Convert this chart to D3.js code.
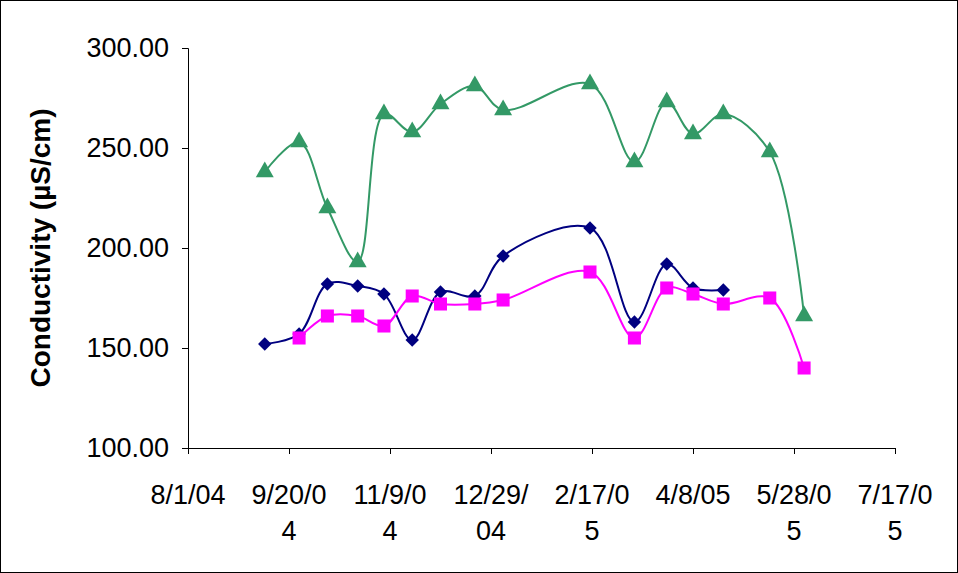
<!DOCTYPE html>
<html><head><meta charset="utf-8">
<script src="https://cdn.jsdelivr.net/npm/d3@7"></script>
<style>body{margin:0;background:#fff}svg{font-family:Arial,"Liberation Sans",sans-serif}</style>
</head><body><svg id="c" width="958" height="573"></svg>
<script>
const blueDates=["2004-09-08","2004-09-25","2004-10-09","2004-10-24","2004-11-06","2004-11-20","2004-12-04","2004-12-21","2005-01-04","2005-02-16","2005-03-10","2005-03-26","2005-04-08","2005-04-23"];
const blueVals=[152,157,182,181,177,154,178,176,196,210,163,192,180,179];
const pinkDates=["2004-09-25","2004-10-09","2004-10-24","2004-11-06","2004-11-20","2004-12-04","2004-12-21","2005-01-04","2005-02-16","2005-03-10","2005-03-26","2005-04-08","2005-04-23","2005-05-16","2005-06-02"];
const pinkVals=[155,166,166,161,176,172,172,174,188,155,180,177,172,175,140];
const greenDates=["2004-09-08","2004-09-25","2004-10-09","2004-10-24","2004-11-06","2004-11-20","2004-12-04","2004-12-21","2005-01-04","2005-02-16","2005-03-10","2005-03-26","2005-04-08","2005-04-23","2005-05-16","2005-06-02"];
const greenVals=[238,253,220,193,267,258,272,281,269,282,243,273,257,267,248,166];
const xTickDates=["2004-08-01","2004-09-20","2004-11-09","2004-12-29","2005-02-17","2005-04-08","2005-05-28","2005-07-17"];
const xTickLabels=[["8/1/04"],["9/20/0","4"],["11/9/0","4"],["12/29/","04"],["2/17/0","5"],["4/8/05"],["5/28/0","5"],["7/17/0","5"]];
const yTicks=[100,150,200,250,300];

const svg=d3.select("#c");
svg.append("rect").attr("x",0.5).attr("y",0.5).attr("width",957).attr("height",572).attr("fill","none").attr("stroke","#000");
const p=d=>d3.utcParse("%Y-%m-%d")(d);
const x=d3.scaleUtc().domain([p(xTickDates[0]),p(xTickDates[7])]).range([188,895]);
const y=d3.scaleLinear().domain([100,300]).range([448,48]);
const g=svg.append("g");
g.append("g").attr("transform","translate(188,0)").call(d3.axisLeft(y).tickValues(yTicks).tickSize(6).tickFormat(d3.format(".2f")))
 .call(a=>{a.select(".domain").attr("stroke","#000");a.selectAll("text").attr("font-size",27).attr("fill","#000").attr("x",-19);});
const xa=g.append("g").attr("transform","translate(0,448)").call(d3.axisBottom(x).tickValues(xTickDates.map(p)).tickSize(6).tickFormat(""));
xa.select(".domain").attr("stroke","#000");
xTickDates.forEach((d,i)=>{xTickLabels[i].forEach((s,j)=>{
  svg.append("text").attr("x",x(p(d))).attr("y",504+j*36).attr("text-anchor","middle").attr("font-size",27).text(s);});});
svg.append("text").attr("transform","translate(50,248) rotate(-90)").attr("text-anchor","middle").attr("font-size",28).attr("font-weight","bold").text("Conductivity (µS/cm)");

function series(dates,vals,color,shape,size){
  const data=dates.map((d,i)=>({x:p(d),y:vals[i]}));
  svg.append("path").datum(data).attr("fill","none").attr("stroke",color).attr("stroke-width",2)
   .attr("d",d3.line().x(d=>x(d.x)).y(d=>y(d.y)).curve(d3.curveCatmullRom.alpha(0.5)));
  svg.selectAll(null).data(data).enter().append("path")
   .attr("transform",d=>`translate(${x(d.x)},${y(d.y)})`)
   .attr("d",d3.symbol().type(shape).size(size)).attr("fill",color);
}
series(greenDates,greenVals,"#339966",d3.symbolTriangle,140);
series(blueDates,blueVals,"#000080",d3.symbolDiamond2,115);
series(pinkDates,pinkVals,"#FF00FF",d3.symbolSquare,170);
</script></body></html>
